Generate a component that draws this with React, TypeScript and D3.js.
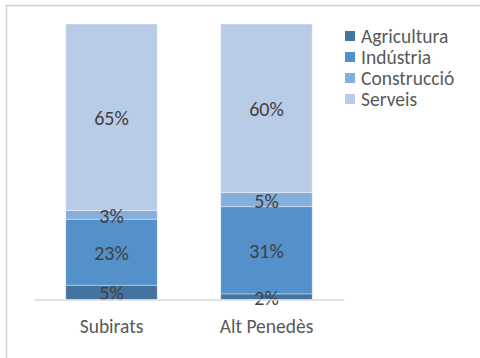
import { useEffect, useRef } from 'react';
import * as d3 from 'd3';

const categories = ['Subirats', 'Alt Penedès'];
const sectors = ['Agricultura', 'Indústria', 'Construcció', 'Serveis'];
const agricultura = [5, 2];
const industria = [23, 31];
const construccio = [3, 5];
const serveis = [65, 60];
const colors = ['#44739f', '#5490c9', '#84afdd', '#b8cce8'];

const FONT = 'Carlito, Calibri, "Noto Sans", sans-serif';

export default function App() {
  const ref = useRef<HTMLDivElement>(null);
  useEffect(() => {
    const width = 480;
    const height = 358;
    const marginTop = 24;
    const baseline = 299.5;

    const rows = categories.map((c, i) => ({
      cat: c,
      Agricultura: agricultura[i],
      'Indústria': industria[i],
      'Construcció': construccio[i],
      Serveis: serveis[i],
    }));

    const series = d3.stack<any>()
      .keys(sectors)
      .offset(d3.stackOffsetExpand)(rows);

    const x = d3.scaleBand()
      .domain(categories)
      .range([34, 344])
      .paddingInner(0.41)
      .paddingOuter(0.205);

    const y = d3.scaleLinear()
      .domain([0, 1])
      .range([baseline, marginTop]);

    const color = d3.scaleOrdinal<string>().domain(sectors).range(colors);

    const svg = d3.create('svg')
      .attr('width', width)
      .attr('height', height)
      .attr('viewBox', [0, 0, width, height])
      .style('display', 'block')
      .style('font-family', FONT);

    svg.append('rect')
      .attr('width', width)
      .attr('height', height)
      .attr('fill', '#fff');

    // chart frame (runs past the visible area on right/bottom)
    svg.append('rect')
      .attr('x', 6.5)
      .attr('y', 5.5)
      .attr('width', 520)
      .attr('height', 420)
      .attr('fill', 'none')
      .attr('stroke', '#d0d0d0')
      .attr('stroke-width', 1.5);

    const g = svg.append('g');
    series.forEach((s) => {
      g.append('g')
        .attr('fill', color(s.key))
        .selectAll('rect')
        .data(s)
        .join('rect')
        .attr('x', (d: any) => x(d.data.cat)!)
        .attr('width', x.bandwidth())
        .attr('y', (d) => y(d[1]))
        .attr('height', (d) => y(d[0]) - y(d[1]))
        .attr('stroke', '#fff')
        .attr('stroke-opacity', 0.5)
        .attr('stroke-width', 0.75);
    });

    // value labels
    series.forEach((s, si) => {
      const vals = [agricultura, industria, construccio, serveis][si];
      g.append('g')
        .selectAll('text')
        .data(s)
        .join('text')
        .attr('x', (d: any) => x(d.data.cat)! + x.bandwidth() / 2)
        .attr('y', (d) => (y(d[0]) + y(d[1])) / 2 + 1)
        .attr('dy', '0.35em')
        .attr('text-anchor', 'middle')
        .attr('fill', '#404040')
        .attr('font-size', 20)
        .text((_d, i) => `${vals[i]}%`);
    });

    // category axis
    svg.append('g')
      .attr('transform', `translate(0,${baseline})`)
      .call(d3.axisBottom(x).tickSize(0).tickPadding(20))
      .call((a) => a.select('.domain').attr('stroke', '#d9d9d9').attr('stroke-width', 1.5))
      .call((a) => a.selectAll('text')
        .attr('fill', '#595959')
        .attr('font-size', 19.5)
        .attr('font-family', FONT));

    // legend
    const legend = svg.append('g')
      .attr('transform', 'translate(345,31)');
    const item = legend.selectAll('g')
      .data(sectors)
      .join('g')
      .attr('transform', (_d, i) => `translate(0,${i * 21})`);
    item.append('rect')
      .attr('width', 10)
      .attr('height', 10)
      .attr('fill', (d) => color(d));
    item.append('text')
      .attr('x', 16)
      .attr('y', 5)
      .attr('dy', '0.35em')
      .attr('fill', '#595959')
      .attr('font-size', 19.5)
      .text((d) => d);

    const node = svg.node()!;
    ref.current?.append(node);
    return () => {
      node.remove();
    };
  }, []);
  return <div ref={ref} style={{ position: 'absolute', left: 0, top: 0 }} />;
}
